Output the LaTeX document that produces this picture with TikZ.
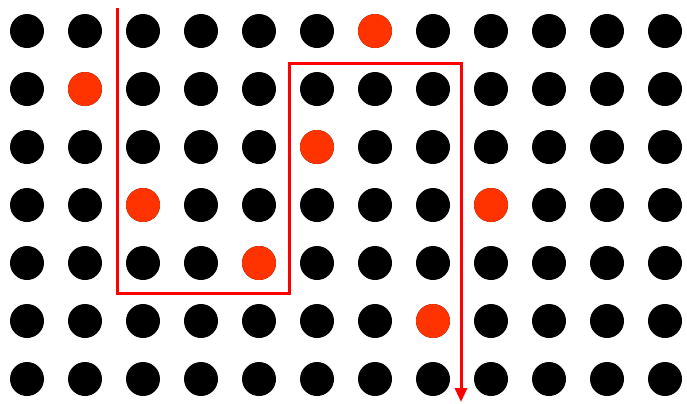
\documentclass[tikz,border=0pt]{standalone}
\usetikzlibrary{arrows.meta,positioning,calc}

\definecolor{dotred}{HTML}{FF3300}

\tikzset{
	dot/.style={circle,fill=black,inner sep=0pt,minimum size=34*0.02cm},
	hot/.style={dot,fill=dotred},
	route/.style={red,line width=3*0.02cm,-{Triangle[length=14*0.02cm,width=12*0.02cm]}}
}

\begin{document}
\begin{tikzpicture}[x=0.02cm,y=-0.02cm]
		
		\useasboundingbox (0,0) rectangle (687,403);
		
		% grid of dots
		\foreach \r in {0,...,6}{
			\foreach \c in {0,...,11}{
				\node[dot] (d-\r-\c) at ({27+58*\c},{31+58*\r}) {};
			}
		}
		
		% red dots
		\foreach \r/\c in {0/6,1/1,2/5,3/2,3/8,4/4,5/7}{
			\node[hot] at (d-\r-\c) {};
		}
		
		\coordinate (S) at (117,8);
		\coordinate (P1) at (117,293);
		\coordinate (P2) at (289,293);
		\coordinate (P3) at (289,63);
		\coordinate (P4) at (461,63);
		\coordinate (E) at (461,402);
		
		\draw[route] (S)--(P1)--(P2)--(P3)--(P4)--(E);
		
	\end{tikzpicture}
\end{document}
